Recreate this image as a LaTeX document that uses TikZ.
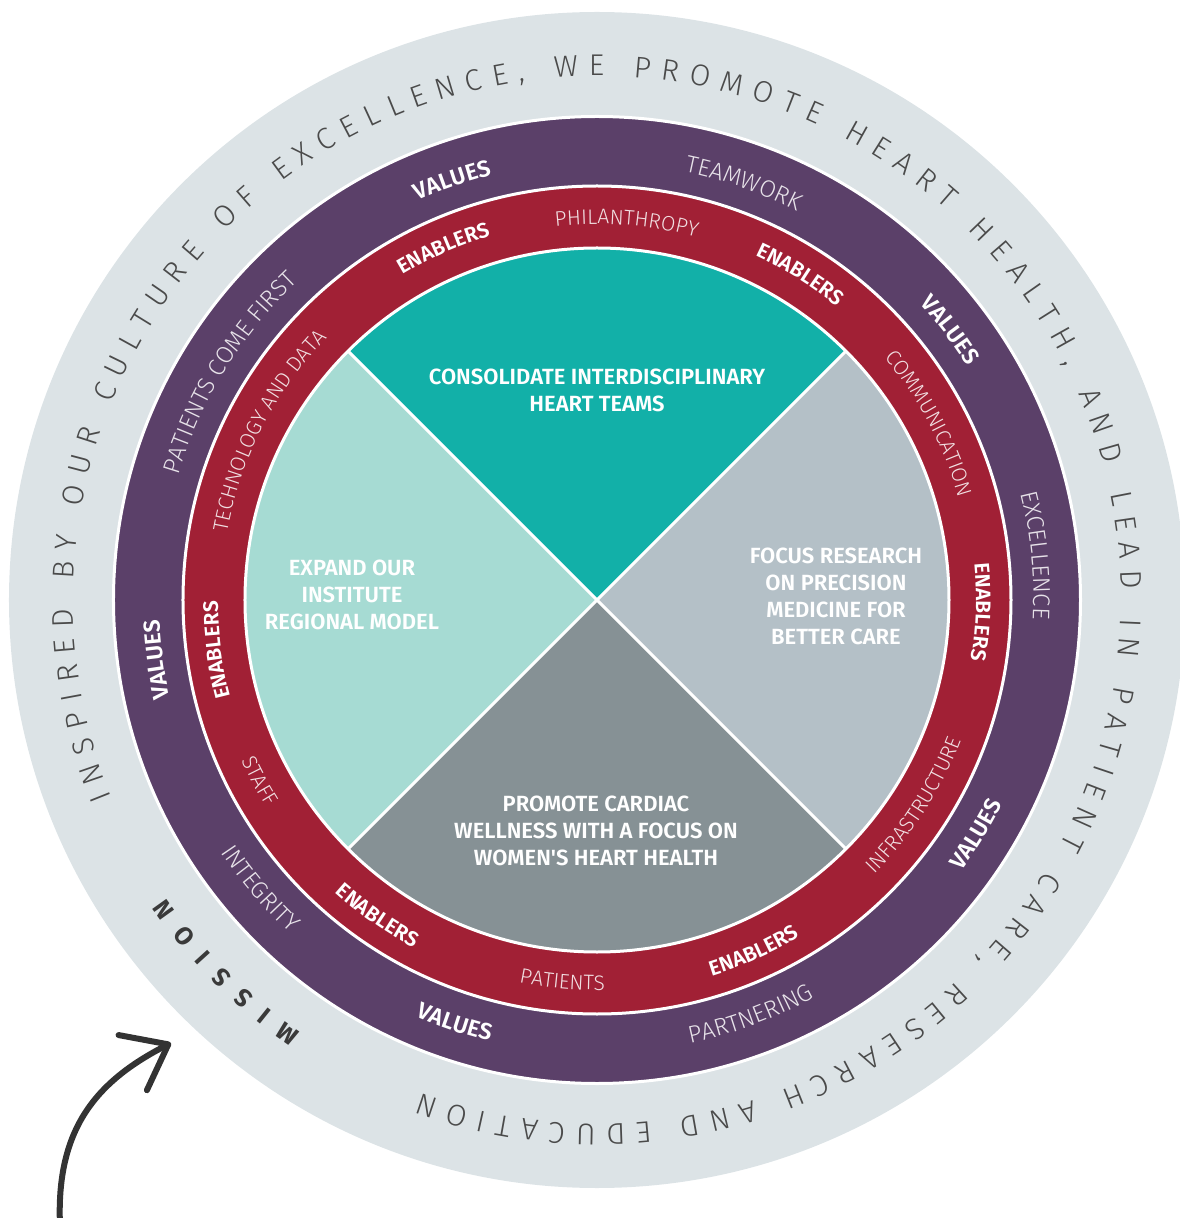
\documentclass[tikz,border=0pt]{standalone}
\usepackage{fontspec}
\setmainfont{Fira Sans}
\newfontfamily\lightfont{Fira Sans Light}
\newfontfamily\semifont{Fira Sans SemiBold}
\usepackage{tikz}
\usetikzlibrary{decorations.text}
\usetikzlibrary{arrows.meta}
\definecolor{missiongray}{HTML}{DCE3E6}
\definecolor{valuepurple}{HTML}{5B4069}
\definecolor{enablerred}{HTML}{A12035}
\definecolor{teamteal}{HTML}{12B0A8}
\definecolor{regionteal}{HTML}{A6DBD3}
\definecolor{researchgray}{HTML}{B4C0C7}
\definecolor{wellnessgray}{HTML}{869195}
\definecolor{missiontext}{HTML}{4A4A4A}
\definecolor{missionhead}{HTML}{3A3A3A}
\definecolor{arrowblack}{HTML}{333333}
\colorlet{valuetext}{white!85!valuepurple}
\colorlet{enablertext}{white!85!enablerred}
\tikzstyle{ringsep} = [draw=white, line width=3]

\newcommand{\valuehead}{\color{white}\semifont\fontsize{23}{23}\selectfont}
\newcommand{\enablerhead}{\color{white}\semifont\fontsize{21}{21}\selectfont}
\newcommand{\valueword}{\color{valuetext}\lightfont\fontsize{24}{24}\selectfont}
\newcommand{\enablerword}{\color{enablertext}\lightfont\fontsize{21}{21}\selectfont}
\newcommand{\missionword}{\color{missiontext}\lightfont\fontsize{30}{30}\selectfont}
\newcommand{\missiontitle}{\color{missionhead}\bfseries\fontsize{25}{25}\selectfont}

% radius, middle angle, font, text
\newcommand{\cwlabel}[4]{\path[decorate, decoration={text along path, text align=center, text={|#3|#4}}] ({#2+45}:#1) arc[start angle={#2+45}, end angle={#2-45}, radius=#1];}
\newcommand{\ccwlabel}[4]{\path[decorate, decoration={text along path, text align=center, text={|#3|#4}}] ({#2-45}:#1) arc[start angle={#2-45}, end angle={#2+45}, radius=#1];}

\begin{document}
\begin{tikzpicture}[x=1pt, y=1pt,
	quadlabel/.style={text=white, align=center, font=\semifont\fontsize{22}{27}\selectfont},
	swoosh/.style={draw=arrowblack, line width=6, line cap=round, -{Straight Barb[length=40, width=62, round]}}]
		
		\useasboundingbox (-597,-618) rectangle (582,600);
		
		% RINGS
		
		\fill[missiongray] (0,0) circle[radius=588];
		\filldraw[fill=valuepurple, ringsep] (0,0) circle[radius=483.5];
		\filldraw[fill=enablerred, ringsep] (0,0) circle[radius=414];
		
		% QUADRANTS
		
		\fill[teamteal] (0,0) -- (45:352) arc[start angle=45, end angle=135, radius=352] -- cycle;
		\fill[regionteal] (0,0) -- (135:352) arc[start angle=135, end angle=225, radius=352] -- cycle;
		\fill[wellnessgray] (0,0) -- (225:352) arc[start angle=225, end angle=315, radius=352] -- cycle;
		\fill[researchgray] (0,0) -- (-45:352) arc[start angle=-45, end angle=45, radius=352] -- cycle;
		\draw[ringsep] (135:352) -- (-45:352);
		\draw[ringsep] (45:352) -- (225:352);
		\draw[ringsep] (0,0) circle[radius=352];
		
		\node[quadlabel] (teams) at (0,210) {CONSOLIDATE INTERDISCIPLINARY\\HEART TEAMS};
		\node[quadlabel] (region) at (-245,5) {EXPAND OUR\\INSTITUTE\\REGIONAL MODEL};
		\node[quadlabel] (research) at (239,4) {FOCUS RESEARCH\\ON PRECISION\\MEDICINE FOR\\BETTER CARE};
		\node[quadlabel] (wellness) at (-1,-231) {PROMOTE CARDIAC\\WELLNESS WITH A FOCUS ON\\WOMEN'S HEART HEALTH};
		
		% VALUES
		
		\cwlabel{438}{109}{\valuehead}{VALUES}
		\cwlabel{438}{37.4}{\valuehead}{VALUES}
		\cwlabel{438}{187.7}{\valuehead}{VALUES}
		\ccwlabel{454}{-31.7}{\valuehead}{VALUES}
		\ccwlabel{454}{-108.6}{\valuehead}{VALUES}
		\cwlabel{437}{70.6}{\valueword}{TEAMWORK}
		\cwlabel{437}{5.8}{\valueword}{EXCELLENCE}
		\ccwlabel{453}{-69.7}{\valueword}{PARTNERING}
		\ccwlabel{453}{-139.4}{\valueword}{INTEGRITY}
		\cwlabel{437}{148.3}{\valueword}{PATIENTS COME FIRST}
		
		% ENABLERS
		
		\cwlabel{379}{113.6}{\enablerhead}{ENABLERS}
		\cwlabel{379}{58}{\enablerhead}{ENABLERS}
		\cwlabel{379}{-1.8}{\enablerhead}{ENABLERS}
		\cwlabel{379}{187.5}{\enablerhead}{ENABLERS}
		\ccwlabel{393}{-124.8}{\enablerhead}{ENABLERS}
		\ccwlabel{393}{-66}{\enablerhead}{ENABLERS}
		\cwlabel{376}{85.5}{\enablerword}{PHILANTHROPY}
		\cwlabel{376}{28}{\enablerword}{COMMUNICATION}
		\ccwlabel{390}{-32.9}{\enablerword}{INFRASTRUCTURE}
		\ccwlabel{390}{-95.2}{\enablerword}{PATIENTS}
		\ccwlabel{390}{-151.8}{\enablerword}{STAFF}
		\cwlabel{376}{152.7}{\enablerword}{TECHNOLOGY AND DATA}
		
		% MISSION
		
		\path[decorate, decoration={text along path, text align=fit to path, text={|\missionword|INSPIRED BY OUR CULTURE OF EXCELLENCE, WE PROMOTE HEART HEALTH, AND LEAD IN PATIENT CARE, RESEARCH AND EDUCATION}}] (202.2:524) arc[start angle=202.2, end angle=-109.7, radius=524];
		\path[decorate, decoration={text along path, text align=fit to path, text={|\missiontitle|MISSION}}] (235.6:524) arc[start angle=235.6, end angle=214.7, radius=524];
		
		% ARROW
		
		\coordinate (arrowtail) at (-537,-625);
		\coordinate (arrowtip) at (-426,-443);
		\draw[swoosh] (arrowtail) .. controls (-541,-530) and (-502,-482) .. (arrowtip);
		
\end{tikzpicture}
\end{document}
